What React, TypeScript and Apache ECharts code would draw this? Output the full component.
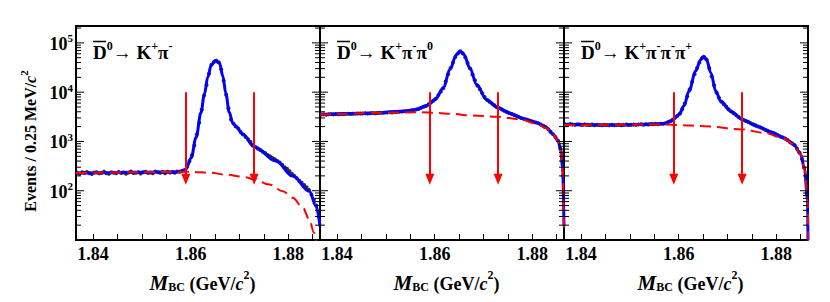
import { useEffect, useRef } from 'react';
import * as echarts from 'echarts';

const FONT = 'Liberation Serif';
const X_MIN = 1.8365;
const X_MAX = 1.8865;
const BIN_WIDTH = 0.0005;
const Y_MIN = 10;
const Y_MAX = 220000;

const xTickLabels = [1.84, 1.86, 1.88];
const yMajorTicks = [100, 1000, 10000, 100000];
const yMinorTicks = [
  20, 30, 40, 50, 60, 70, 80, 90,
  200, 300, 400, 500, 600, 700, 800, 900,
  2000, 3000, 4000, 5000, 6000, 7000, 8000, 9000,
  20000, 30000, 40000, 50000, 60000, 70000, 80000, 90000,
  200000,
];
const signalCuts = [1.859, 1.873];
const arrowFrom = 10000;
const arrowTo = 170;

const title1 = '{b|D}{s|0}{a|→ }{b|K}{s|+}{b|π}{s|-}';
const title2 = '{b|D}{s|0}{a|→ }{b|K}{s|+}{b|π}{s|-}{b|π}{s|0}';
const title3 = '{b|D}{s|0}{a|→ }{b|K}{s|+}{b|π}{s|-}{b|π}{s|-}{b|π}{s|+}';

// Events per 0.5 MeV-spaced bin
const counts1 = [
  232, 221, 236, 228, 240, 226, 219, 234, 238, 225,
  230, 244, 227, 222, 237, 231, 226, 241, 229, 235,
  220, 233, 246, 228, 231, 238, 224, 236, 242, 229,
  233, 227, 245, 236, 230, 239, 226, 243, 235, 240,
  232, 246, 241, 248, 255, 305, 395, 525, 830, 1380,
  2400, 4400, 8600, 14000, 24000, 36000, 40700, 43600, 40500, 29000,
  17000, 8900, 4700, 2800, 2300, 2000, 1820, 1550, 1380, 1230,
  1110, 990, 860, 770, 710, 670, 615, 580, 530, 500,
  460, 435, 400, 375, 338, 300, 278, 250, 222, 200,
  180, 160, 146, 130, 118, 104, 84, 66, 50, 30,
];
const fit1 = [
  [1.8365, 228], [1.842, 232], [1.848, 236], [1.854, 239], [1.8575, 242],
  [1.859, 270], [1.8601, 466], [1.8611, 1200], [1.8621, 3800], [1.8628, 9000],
  [1.8635, 20000], [1.8642, 35000], [1.865, 43800], [1.8659, 39000], [1.8666, 21000],
  [1.8672, 9500], [1.8679, 3900], [1.8686, 2400], [1.8693, 2000], [1.8707, 1400],
  [1.873, 780], [1.8775, 400], [1.8809, 198], [1.8843, 98], [1.8857, 49], [1.8865, 19],
];
const bkg1 = [
  [1.8365, 228], [1.848, 236], [1.858, 241], [1.8601, 242], [1.8638, 232],
  [1.8672, 213], [1.8707, 192], [1.873, 170], [1.8761, 134], [1.8789, 98],
  [1.8809, 72], [1.883, 45], [1.8843, 26], [1.8853, 14], [1.8857, 10], [1.8859, 7],
];

const counts2 = [
  3530, 3560, 3490, 3550, 3580, 3540, 3600, 3570, 3620, 3590,
  3610, 3650, 3600, 3660, 3640, 3690, 3670, 3700, 3720, 3690,
  3740, 3760, 3730, 3790, 3810, 3780, 3840, 3870, 3900, 3880,
  3940, 3970, 4000, 4040, 4080, 4130, 4200, 4270, 4360, 4470,
  4610, 4820, 5040, 5260, 5700, 6180, 6700, 7450, 8710, 10200,
  12000, 16500, 23000, 31100, 40000, 51500, 61200, 67600, 61600, 50800,
  39200, 30100, 22900, 17400, 13500, 11400, 9550, 8000, 6900, 6350,
  5850, 5400, 5000, 4700, 4440, 4210, 4000, 3780, 3600, 3440,
  3290, 3140, 3000, 2870, 2780, 2690, 2600, 2510, 2430, 2340,
  2200, 2080, 1960, 1760, 1570, 1400, 1220, 1040, 710, 200,
];
const fit2 = [
  [1.8365, 3520], [1.8468, 3720], [1.8536, 4080], [1.8563, 4470], [1.8584, 5380],
  [1.8601, 7100], [1.8618, 12300], [1.8631, 28900], [1.8645, 57900], [1.8652, 67600],
  [1.866, 57900], [1.8672, 31000], [1.8686, 14300], [1.8706, 7100], [1.873, 4800],
  [1.8754, 3720], [1.8782, 2880], [1.8809, 2400], [1.8829, 1900], [1.8843, 1390],
  [1.8853, 1020], [1.8858, 690], [1.8862, 316], [1.8865, 19],
];
const bkg2 = [
  [1.8365, 3520], [1.857, 3900], [1.8601, 3800], [1.8638, 3620], [1.8672, 3370],
  [1.873, 3160], [1.8775, 2800], [1.8809, 2300], [1.8829, 1850], [1.8843, 1360],
  [1.8853, 1000], [1.8858, 680], [1.8862, 312], [1.8865, 18],
];

const counts3 = [
  2230, 2190, 2250, 2200, 2170, 2240, 2210, 2160, 2220, 2180,
  2150, 2200, 2140, 2190, 2160, 2130, 2180, 2150, 2120, 2170,
  2140, 2160, 2190, 2130, 2170, 2200, 2150, 2180, 2210, 2170,
  2200, 2230, 2190, 2240, 2210, 2250, 2230, 2270, 2240, 2280,
  2290, 2340, 2450, 2560, 2770, 3020, 3300, 3700, 4570, 5900,
  8200, 11500, 16300, 23000, 31000, 40000, 49000, 51300, 45700, 30800,
  20800, 13800, 9700, 7750, 6380, 5680, 5060, 4500, 4040, 3730,
  3440, 3180, 2930, 2740, 2600, 2470, 2350, 2230, 2120, 2010,
  1910, 1820, 1730, 1640, 1560, 1490, 1420, 1350, 1280, 1220,
  1150, 1070, 990, 920, 840, 710, 600, 440, 290, 88,
];
const fit3 = [
  [1.8365, 2210], [1.8468, 2150], [1.857, 2290], [1.8584, 2580], [1.8601, 3520],
  [1.8611, 5300], [1.8621, 10500], [1.8635, 27000], [1.8645, 45700], [1.8651, 53700],
  [1.8657, 45700], [1.8666, 24500], [1.8676, 10500], [1.8686, 6600], [1.8707, 4100],
  [1.873, 2800], [1.8761, 2040], [1.8789, 1550], [1.8816, 1180], [1.8836, 870],
  [1.885, 550], [1.8858, 270], [1.8864, 66], [1.8865, 10],
];
const bkg3 = [
  [1.8365, 2150], [1.857, 2210], [1.8601, 2150], [1.8652, 2040], [1.873, 1750],
  [1.8775, 1500], [1.8816, 1150], [1.8836, 860], [1.885, 545], [1.8858, 268],
  [1.8864, 65], [1.8866, 8],
];

const panels = [
  { title: title1, counts: counts1, fit: fit1, bkg: bkg1 },
  { title: title2, counts: counts2, fit: fit2, bkg: bkg2 },
  { title: title3, counts: counts3, fit: fit3, bkg: bkg3 },
];

const GRID_LEFTS = [76, 320, 564];
const GRID_W = 244;
const GRID_TOP = 26;
const GRID_H = 214;

const labelRich = {
  b: { fontFamily: FONT, fontWeight: 'bold', fontSize: 18, lineHeight: 20, verticalAlign: 'bottom', color: '#000' },
  s: { fontFamily: FONT, fontWeight: 'bold', fontSize: 11, lineHeight: 10, verticalAlign: 'top', color: '#000' },
};

const xNameRich = {
  m: { fontFamily: FONT, fontWeight: 'bold', fontStyle: 'italic', fontSize: 21, lineHeight: 24, verticalAlign: 'bottom', color: '#000' },
  sub: { fontFamily: FONT, fontWeight: 'bold', fontSize: 12, lineHeight: 12, verticalAlign: 'bottom', color: '#000' },
  n: { fontFamily: FONT, fontWeight: 'bold', fontSize: 18, lineHeight: 24, verticalAlign: 'bottom', color: '#000' },
  i: { fontFamily: FONT, fontWeight: 'bold', fontStyle: 'italic', fontSize: 18, lineHeight: 24, verticalAlign: 'bottom', color: '#000' },
  sup: { fontFamily: FONT, fontWeight: 'bold', fontSize: 12, lineHeight: 12, verticalAlign: 'top', color: '#000' },
};

const yNameRich = {
  n: { fontFamily: FONT, fontWeight: 'bold', fontSize: 16, lineHeight: 20, verticalAlign: 'bottom', color: '#000' },
  i: { fontFamily: FONT, fontWeight: 'bold', fontStyle: 'italic', fontSize: 16, lineHeight: 20, verticalAlign: 'bottom', color: '#000' },
  sup: { fontFamily: FONT, fontWeight: 'bold', fontSize: 11, lineHeight: 11, verticalAlign: 'top', color: '#000' },
};

const titleRich = {
  b: { fontFamily: FONT, fontWeight: 'bold', fontSize: 19, lineHeight: 22, verticalAlign: 'bottom', fill: '#000' },
  a: { fontFamily: FONT, fontWeight: 'normal', fontSize: 19, lineHeight: 22, verticalAlign: 'bottom', fill: '#000' },
  s: { fontFamily: FONT, fontWeight: 'bold', fontSize: 12, lineHeight: 12, verticalAlign: 'top', fill: '#000' },
};

function buildOption() {
  const grid: any[] = [];
  const xAxis: any[] = [];
  const yAxis: any[] = [];
  const series: any[] = [];
  const graphic: any[] = [];

  panels.forEach((p, k) => {
    const left = GRID_LEFTS[k];
    grid.push({
      left, top: GRID_TOP, width: GRID_W, height: GRID_H,
      show: true, borderColor: '#000', borderWidth: 2, backgroundColor: 'transparent',
    });
    xAxis.push({
      type: 'value', gridIndex: k, min: X_MIN, max: X_MAX,
      splitNumber: 10, minInterval: 0.005, maxInterval: 0.005,
      axisLine: { show: false },
      axisTick: { show: true, inside: true, length: 6, lineStyle: { color: '#000', width: 1 } },
      splitLine: { show: false },
      axisLabel: {
        margin: 5,
        fontFamily: FONT, fontWeight: 'bold', fontSize: 18, color: '#000',
        formatter: (v: number) => (xTickLabels.some((t) => Math.abs(t - v) < 1e-6) ? v.toFixed(2) : ''),
      },
      name: '{m|M}{sub|BC}{n| (GeV/}{i|c}{sup|2}{n|)}',
      nameLocation: 'middle', nameGap: 29,
      nameTextStyle: { rich: xNameRich, padding: [0, 0, 0, 9] },
    });
    yAxis.push({
      type: 'log', logBase: 10, gridIndex: k, min: Y_MIN, max: Y_MAX,
      axisLine: { show: false },
      axisTick: { show: false },
      splitLine: { show: false },
      minorTick: { show: false },
      axisLabel: {
        show: k === 0, margin: 3,
        formatter: (v: number) => {
          if (!yMajorTicks.some((t) => Math.abs(t - v) / t < 1e-6)) return '';
          return `{b|10}{s|${Math.round(Math.log10(v))}}`;
        },
        rich: labelRich,
      },
      name: k === 0 ? '{n|Events / 0.25 MeV/}{i|c}{sup|2}' : '',
      nameLocation: 'middle', nameRotate: 90, nameGap: 38,
      nameTextStyle: { rich: yNameRich, padding: [0, 16, 0, 0] },
    });

    series.push({
      type: 'scatter', xAxisIndex: k, yAxisIndex: k, z: 2,
      symbol: 'circle', symbolSize: 4, silent: true,
      itemStyle: { color: '#000' },
      data: p.counts.map((c, i) => [X_MIN + (i + 0.5) * BIN_WIDTH, c]),
    });
    series.push({
      type: 'line', xAxisIndex: k, yAxisIndex: k, z: 3,
      showSymbol: false, symbol: 'none', smooth: 0.35, smoothMonotone: 'x', silent: true,
      lineStyle: { color: '#0000ff', width: 3 },
      data: p.fit,
    });
    series.push({
      type: 'line', xAxisIndex: k, yAxisIndex: k, z: 4,
      showSymbol: false, symbol: 'none', smooth: 0.35, smoothMonotone: 'x', silent: true,
      lineStyle: { color: '#ff0000', width: 2, type: [11, 6] },
      data: p.bkg,
      markLine: {
        silent: true, symbol: ['none', 'triangle'], symbolSize: [9, 11],
        label: { show: false },
        lineStyle: { color: '#ff0000', width: 2, type: 'solid' },
        emphasis: { disabled: true },
        data: signalCuts.map((x) => [{ coord: [x, arrowFrom] }, { coord: [x, arrowTo] }]),
      },
    });
    series.push({
      type: 'custom', xAxisIndex: k, yAxisIndex: k, z: 5, silent: true,
      encode: { x: 0, y: 1 },
      data: [
        ...yMajorTicks.map((v) => [X_MIN, v, 8]),
        ...yMinorTicks.map((v) => [X_MIN, v, 5]),
      ],
      renderItem: (_params: any, api: any) => {
        const v = api.value(1);
        const len = api.value(2);
        const l = api.coord([X_MIN, v]);
        const r = api.coord([X_MAX, v]);
        return {
          type: 'group',
          children: [
            { type: 'line', shape: { x1: l[0], y1: l[1], x2: l[0] + len, y2: l[1] }, style: { stroke: '#000', lineWidth: 1 } },
            { type: 'line', shape: { x1: r[0], y1: r[1], x2: r[0] - len, y2: r[1] }, style: { stroke: '#000', lineWidth: 1 } },
          ],
        };
      },
    });

    graphic.push({
      type: 'group',
      children: [
        { type: 'text', x: left + 17, y: 40, style: { text: p.title, rich: titleRich, verticalAlign: 'top', align: 'left' } },
        { type: 'line', shape: { x1: left + 17, y1: 41.5, x2: left + 30, y2: 41.5 }, style: { stroke: '#000', lineWidth: 1.5 } },
      ],
    });
  });

  return {
    animation: false,
    backgroundColor: '#fff',
    grid, xAxis, yAxis, series, graphic,
  };
}

export default function App() {
  const ref = useRef<HTMLDivElement>(null);
  useEffect(() => {
    if (!ref.current) return;
    const chart = echarts.init(ref.current, null, { renderer: 'svg' });
    chart.setOption(buildOption() as any);
    return () => chart.dispose();
  }, []);
  return <div ref={ref} style={{ position: 'fixed', left: 0, top: 0, width: 830, height: 302 }} />;
}
